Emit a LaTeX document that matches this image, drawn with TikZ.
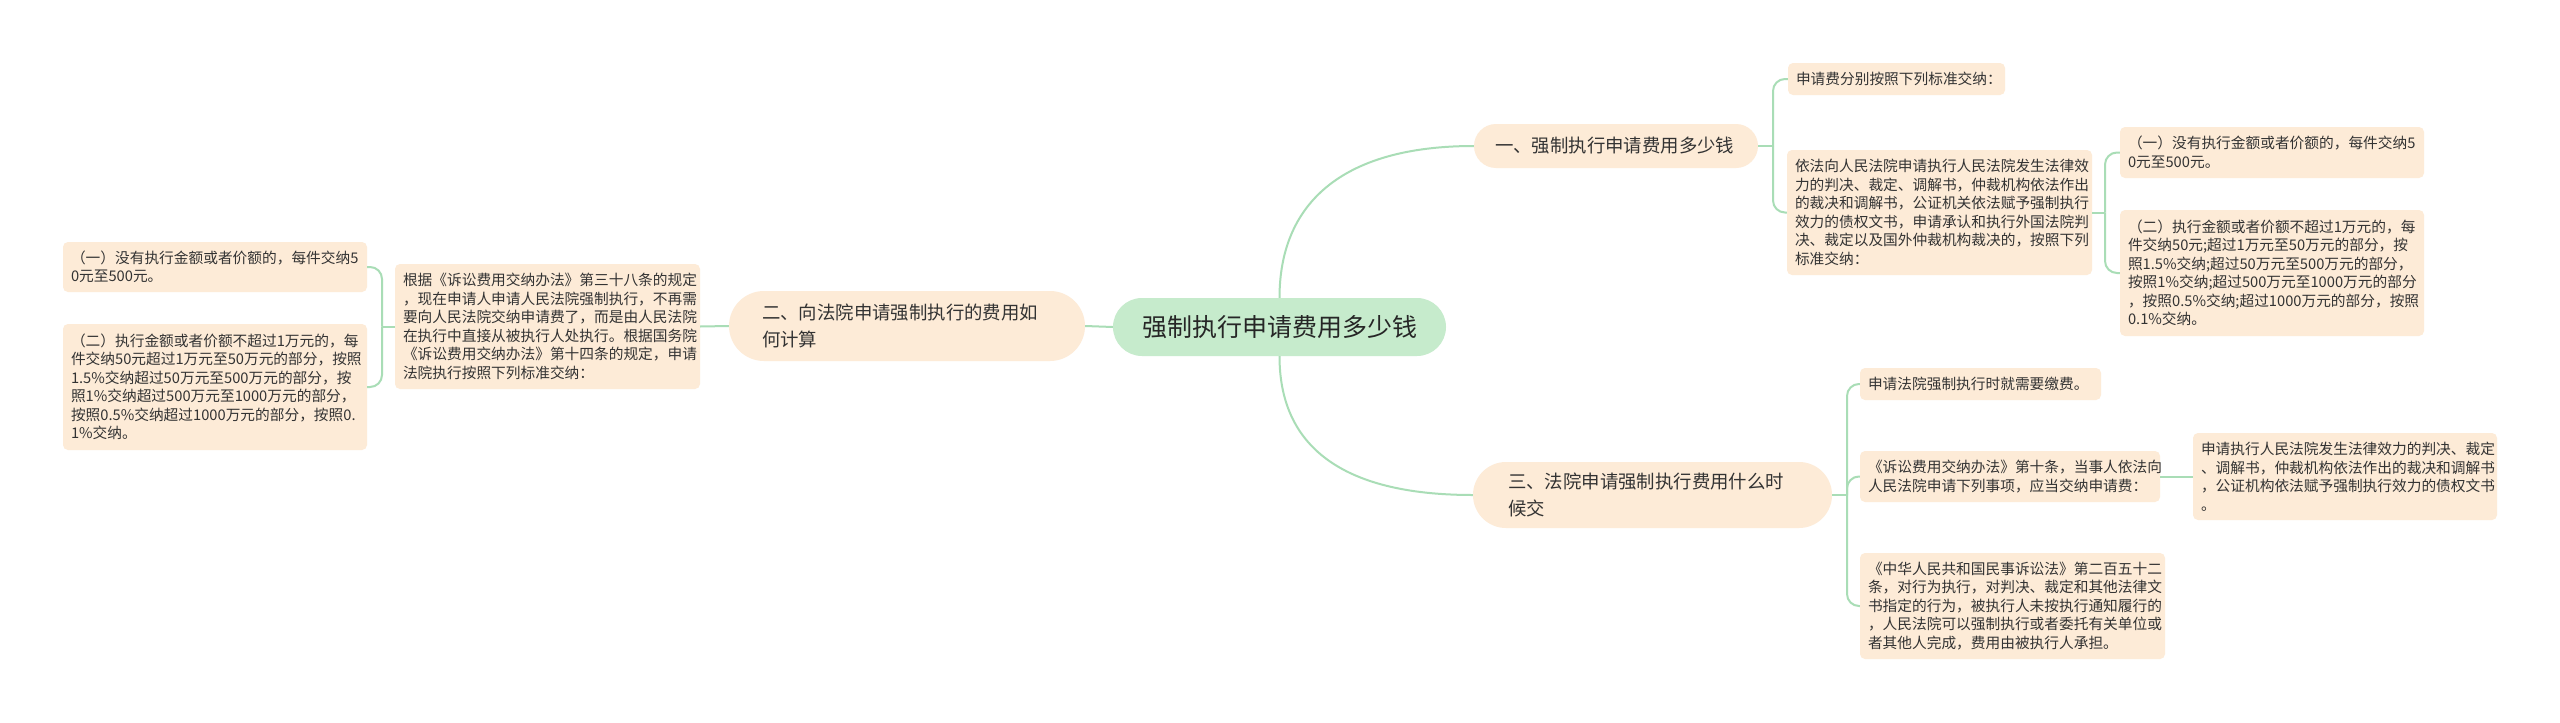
\documentclass[tikz,border=0pt]{standalone}
\usepackage{fontspec}
\setmainfont{Noto Sans CJK SC}
\definecolor{leaffill}{HTML}{FDEBD7}
\definecolor{rootfill}{HTML}{C6EBCC}
\definecolor{linkc}{HTML}{A9DDB6}
\definecolor{txt}{HTML}{333333}
\tikzset{
  box/.style={fill=leaffill, draw=none, inner ysep=0pt, align=left, text=txt},
  leaf/.style={box, rounded corners=5pt, inner xsep=8pt, font=\fontsize{14.7}{18.5}\selectfont},
  topic/.style={box, inner xsep=0pt, font=\fontsize{18.4}{27}\selectfont},
  link/.style={draw=linkc, line width=2pt},
  fork/.style={link, rounded corners=12pt},
}
\begin{document}
\begin{tikzpicture}[x=1pt,y=-1pt]
\useasboundingbox[fill=white] (0,0) rectangle (2560,723);

% root
\node[fill=rootfill, rounded corners=29pt, minimum width=333pt, minimum height=58pt,
      inner sep=0pt, font=\fontsize{25}{30}\selectfont, text=black!85] (c) at (1279.5,327) {强制执行申请费用多少钱};

% branch 2 (left)
\node[topic, rounded corners=35pt, minimum width=356pt, minimum height=70pt, text width=290pt] (n2) at (907,326)
  {二、向法院申请强制执行的费用如\\何计算};
\node[leaf, minimum width=305pt, minimum height=125pt, text width=289pt] (n2d) at (547.5,326.5)
  {根据《诉讼费用交纳办法》第三十八条的规定\\，现在申请人申请人民法院强制执行，不再需\\要向人民法院交纳申请费了，而是由人民法院\\在执行中直接从被执行人处执行。根据国务院\\《诉讼费用交纳办法》第十四条的规定，申请\\法院执行按照下列标准交纳：};
\node[leaf, minimum width=304pt, minimum height=50pt, text width=288pt] (L1) at (215,267)
  {（一）没有执行金额或者价额的，每件交纳5\\0元至500元。};
\node[leaf, minimum width=304pt, minimum height=126pt, text width=288pt] (L2) at (215,387)
  {（二）执行金额或者价额不超过1万元的，每\\件交纳50元超过1万元至50万元的部分，按照\\1.5\%交纳超过50万元至500万元的部分，按\\照1\%交纳超过500万元至1000万元的部分，\\按照0.5\%交纳超过1000万元的部分，按照0.\\1\%交纳。};

% branch 1 (upper right)
\node[topic, rounded corners=22pt, minimum width=284pt, minimum height=44pt, text width=242pt] (n1) at (1616,146)
  {一、强制执行申请费用多少钱};
\node[leaf, minimum width=217pt, minimum height=32pt, text width=201pt] (R1a) at (1896.5,79)
  {申请费分别按照下列标准交纳：};
\node[leaf, minimum width=305pt, minimum height=125pt, text width=289pt] (R1b) at (1939.5,212.5)
  {依法向人民法院申请执行人民法院发生法律效\\力的判决、裁定、调解书，仲裁机构依法作出\\的裁决和调解书，公证机关依法赋予强制执行\\效力的债权文书，申请承认和执行外国法院判\\决、裁定以及国外仲裁机构裁决的，按照下列\\标准交纳：};
\node[leaf, minimum width=304pt, minimum height=51pt, text width=288pt] (R1b1) at (2272,152.5)
  {（一）没有执行金额或者价额的，每件交纳5\\0元至500元。};
\node[leaf, minimum width=304pt, minimum height=126pt, text width=288pt] (R1b2) at (2272,273)
  {（二）执行金额或者价额不超过1万元的，每\\件交纳50元;超过1万元至50万元的部分，按\\照1.5\%交纳;超过50万元至500万元的部分，\\按照1\%交纳;超过500万元至1000万元的部分\\，按照0.5\%交纳;超过1000万元的部分，按照\\0.1\%交纳。};

% branch 3 (lower right)
\node[topic, rounded corners=33pt, minimum width=359pt, minimum height=66pt, text width=289pt] (n3) at (1652.5,495)
  {三、法院申请强制执行费用什么时\\候交};
\node[leaf, minimum width=241pt, minimum height=32pt, text width=225pt] (R3a) at (1980.5,384)
  {申请法院强制执行时就需要缴费。};
\node[leaf, minimum width=300pt, minimum height=51pt, text width=284pt] (R3b) at (2010,476.5)
  {《诉讼费用交纳办法》第十条，当事人依法向\\人民法院申请下列事项，应当交纳申请费：};
\node[leaf, minimum width=304pt, minimum height=87pt, text width=288pt] (R3b1) at (2345,476.5)
  {申请执行人民法院发生法律效力的判决、裁定\\、调解书，仲裁机构依法作出的裁决和调解书\\，公证机构依法赋予强制执行效力的债权文书\\。};
\node[leaf, minimum width=305pt, minimum height=106pt, text width=289pt] (R3c) at (2012.5,606)
  {《中华人民共和国民事诉讼法》第二百五十二\\条，对行为执行，对判决、裁定和其他法律文\\书指定的行为，被执行人未按执行通知履行的\\，人民法院可以强制执行或者委托有关单位或\\者其他人完成，费用由被执行人承担。};

% trunk points
\coordinate (t2) at (382,326.5);
\coordinate (t1) at (1773,146);
\coordinate (t1b) at (2105,212.5);
\coordinate (t3) at (1847,495);

% connectors
\draw[link] (c.west) -- (n2.east);
\draw[link] (n2.west) -- (n2d.east);
\draw[link] (n2d.west) -- (t2);
\draw[fork] (t2) |- (L1.east);
\draw[fork] (t2) |- (L2.east);

\draw[link] (c.north) .. controls (1279.5,205) and (1340,146) .. (n1.west);
\draw[link] (c.south) .. controls (1279.5,445) and (1340,495) .. (n3.west);

\draw[link] (n1.east) -- (t1);
\draw[fork] (t1) |- (R1a.west);
\draw[fork] (t1) |- (R1b.west);
\draw[link] (R1b.east) -- (t1b);
\draw[fork] (t1b) |- (R1b1.west);
\draw[fork] (t1b) |- (R1b2.west);

\draw[link] (n3.east) -- (t3);
\draw[fork] (t3) |- (R3a.west);
\draw[fork] (t3) |- (R3b.west);
\draw[fork] (t3) |- (R3c.west);
\draw[link] (R3b.east) -- (R3b1.west);
\end{tikzpicture}
\end{document}
